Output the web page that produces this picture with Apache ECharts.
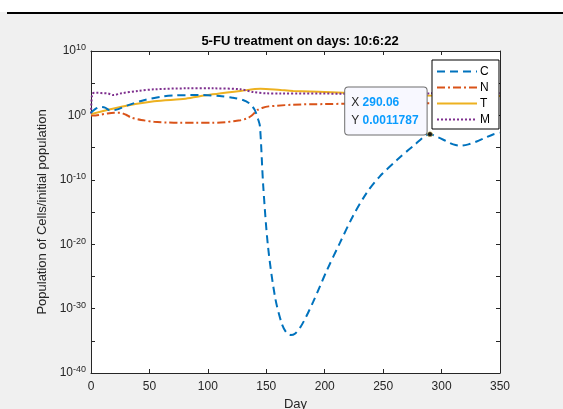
<!DOCTYPE html>
<html>
<head>
<meta charset="utf-8">
<title>5-FU treatment</title>
<script src="https://cdn.jsdelivr.net/npm/echarts@6/dist/echarts.min.js"></script>
<style>
  html, body { margin: 0; padding: 0; background: #f0f0f0; }
  #chart { width: 563px; height: 409px; }
</style>
</head>
<body>
<div id="chart"></div>
<script>
// values, y as powers of ten (log10 of population ratio)
var cDays = [0, 3, 8, 12, 16, 22, 32, 46, 60, 72, 85, 96, 110, 121, 130, 136, 140, 143, 144.6, 147.4, 151.5, 157.5, 163.2, 167.5, 171, 174.5, 178.8, 184, 190, 196, 202, 213, 224, 236, 247, 262, 275.5, 290.06, 297, 304.6, 310, 316, 323, 330, 337, 344, 350];
var cExp  = [0.4, 0.9, 1.3, 1.2, 0.8, 0.9, 1.6, 2.4, 2.9, 3.1, 3.15, 3.15, 3.0, 2.75, 2.4, 1.8, 0.9, -0.6, -1.7, -11, -20.4, -28.2, -32.3, -33.8, -34.1, -33.9, -33.0, -31.3, -29, -26.5, -24, -19.8, -15.7, -12, -9.5, -6.9, -4.8, -2.93, -3.4, -4.05, -4.5, -4.7, -4.5, -4.05, -3.5, -2.96, -2.7];

var nDays = [0, 4, 8, 14, 20, 25, 30, 34, 43, 54, 65, 76, 90, 104, 115, 122, 128, 133, 137, 140, 143, 147, 152, 159, 173, 200, 215, 250, 290, 350];
var nExp  = [0, 0, 0.1, 0.3, 0.4, 0.4, 0.1, -0.3, -0.7, -1.0, -1.1, -1.15, -1.15, -1.15, -1.05, -0.9, -0.75, -0.5, -0.1, 0.4, 0.9, 1.2, 1.4, 1.5, 1.67, 1.76, 1.8, 1.85, 1.87, 1.87];

var tDays = [0, 26, 54, 76, 81, 104, 128, 145, 162, 173, 216, 250, 282, 350];
var tExp  = [0.2, 1.35, 2.2, 2.5, 2.6, 3.27, 3.8, 4.15, 3.94, 3.8, 3.53, 3.3, 3.1, 3.0];

var mDays = [0, 1, 3, 6, 10, 14.5, 19, 26, 40, 54.5, 81, 104, 128, 139, 150, 162, 216, 290, 350];
var mExp  = [0.3, 3.3, 3.5, 3.5, 3.45, 3.4, 3.15, 3.43, 3.8, 4.05, 4.2, 4.2, 4.05, 3.63, 3.43, 3.4, 3.38, 3.42, 3.45];

var xTicks = [0, 50, 100, 150, 200, 250, 300, 350];
var yTickExp = [-40, -30, -20, -10, 0, 10];
var tipX = 290.06, tipY = 0.0011787;

function pairs(days, exps) {
  return days.map(function (d, i) { return [d, exps[i]]; });
}

var font = 'Arial, "Liberation Sans", Helvetica, sans-serif';
var ink = '#262626';

var chart = echarts.init(document.getElementById('chart'), null, { renderer: 'canvas' });

// the y axis runs in decades, labels drawn as 10^n
function yLabel(v) {
  if (yTickExp.indexOf(v) < 0) return '';
  return '{b|10}{s|' + v + '}';
}

var yBase = {
  type: 'value',
  min: -40,
  max: 10,
  interval: 5,
  axisLine: { show: true, onZero: false, lineStyle: { color: ink, width: 1 } },
  axisTick: { show: true, inside: true, length: 4, lineStyle: { color: ink } },
  splitLine: { show: false }
};

var xBase = {
  type: 'value', min: 0, max: 350, interval: 50,
  axisLine: { show: true, onZero: false, lineStyle: { color: ink } },
  axisTick: { show: true, inside: true, length: 4, lineStyle: { color: ink } },
  splitLine: { show: false }
};

chart.setOption({
  backgroundColor: '#f0f0f0',
  animation: false,
  textStyle: { fontFamily: font },
  title: {
    text: '5-FU treatment on days: 10:6:22',
    left: 295, top: 30, textAlign: 'center',
    textStyle: { fontSize: 13, fontWeight: 'bold', color: '#000', fontFamily: font }
  },
  graphic: [
    { type: 'rect', shape: { x: 0, y: 0, width: 563, height: 12 }, style: { fill: '#fff' } },
    { type: 'rect', shape: { x: 7, y: 12, width: 556, height: 2 }, style: { fill: '#000' } }
  ],
  grid: {
    left: 91, right: 63, top: 51, bottom: 36, outerBoundsMode: 'none',
    show: true, backgroundColor: '#fff', borderWidth: 0
  },
  legend: {
    orient: 'vertical',
    left: 432, top: 60,
    backgroundColor: '#fff',
    borderColor: '#000', borderWidth: 1,
    padding: [5, 9, 3, 4],
    itemWidth: 40, itemHeight: 10, itemGap: 3,
    itemStyle: { opacity: 0 },
    textStyle: { fontSize: 12, lineHeight: 13, color: '#000', fontFamily: font, padding: [0, 0, 0, -2] },
    data: ['C', 'N', 'T', 'M']
  },
  xAxis: [Object.assign({}, xBase, {
    name: 'Day', nameLocation: 'middle', nameGap: 25,
    nameTextStyle: { fontSize: 13, color: ink },
    axisLabel: { fontSize: 12, color: ink, margin: 8,
      formatter: function (v) { return xTicks.indexOf(v) >= 0 ? String(v) : ''; } }
  }), Object.assign({}, xBase, { position: 'top', axisLabel: { show: false } })],
  yAxis: [Object.assign({}, yBase, {
    name: 'Population of Cells/initial population',
    nameLocation: 'middle', nameGap: 37,
    nameTextStyle: { fontSize: 13, color: ink },
    axisLabel: {
      margin: 5, color: ink, formatter: yLabel,
      rich: {
        b: { fontSize: 12, color: ink, fontFamily: font },
        s: { fontSize: 9, color: ink, fontFamily: font, verticalAlign: 'top', padding: [0, 0, 6, 0] }
      }
    }
  }), Object.assign({}, yBase, { position: 'right', axisLabel: { show: false } })],
  series: [{
    name: 'C', type: 'line', data: pairs(cDays, cExp), smooth: 0.3, symbol: 'none',
    lineStyle: { color: '#0072BD', width: 2, type: [8, 5] }, itemStyle: { color: '#0072BD' },
    z: 4,
    markPoint: {
      symbol: 'circle', symbolSize: 5,
      itemStyle: { color: '#1a1a1a', borderColor: '#e8d25a', borderWidth: 0.5 },
      data: [{ coord: [tipX, Math.log(tipY) / Math.LN10] }],
      label: {
        show: true, position: [-82, -44], align: 'left', verticalAlign: 'top',
        backgroundColor: '#f8f8ff', borderColor: '#6e6e6e', borderWidth: 1, borderRadius: 3,
        padding: [6, 8, 5, 6], lineHeight: 18,
        formatter: '{k|X} {v|' + tipX.toFixed(2) + '}\n{k|Y} {v|' + tipY + '}',
        rich: {
          k: { fontSize: 12, color: ink, fontFamily: font },
          v: { fontSize: 12, color: '#0a9cff', fontWeight: 'bold', fontFamily: font }
        }
      }
    }
  }, {
    name: 'N', type: 'line', data: pairs(nDays, nExp), smooth: 0.3, symbol: 'none',
    lineStyle: { color: '#D95319', width: 2, type: [8, 3, 2, 3] }, itemStyle: { color: '#D95319' }
  }, {
    name: 'T', type: 'line', data: pairs(tDays, tExp), smooth: 0.3, symbol: 'none',
    lineStyle: { color: '#EDB120', width: 2 }, itemStyle: { color: '#EDB120' }
  }, {
    name: 'M', type: 'line', data: pairs(mDays, mExp), smooth: 0.3, symbol: 'none',
    lineStyle: { color: '#7E2F8E', width: 2, type: [2, 2] }, itemStyle: { color: '#7E2F8E' }
  }]
});
</script>
</body>
</html>
